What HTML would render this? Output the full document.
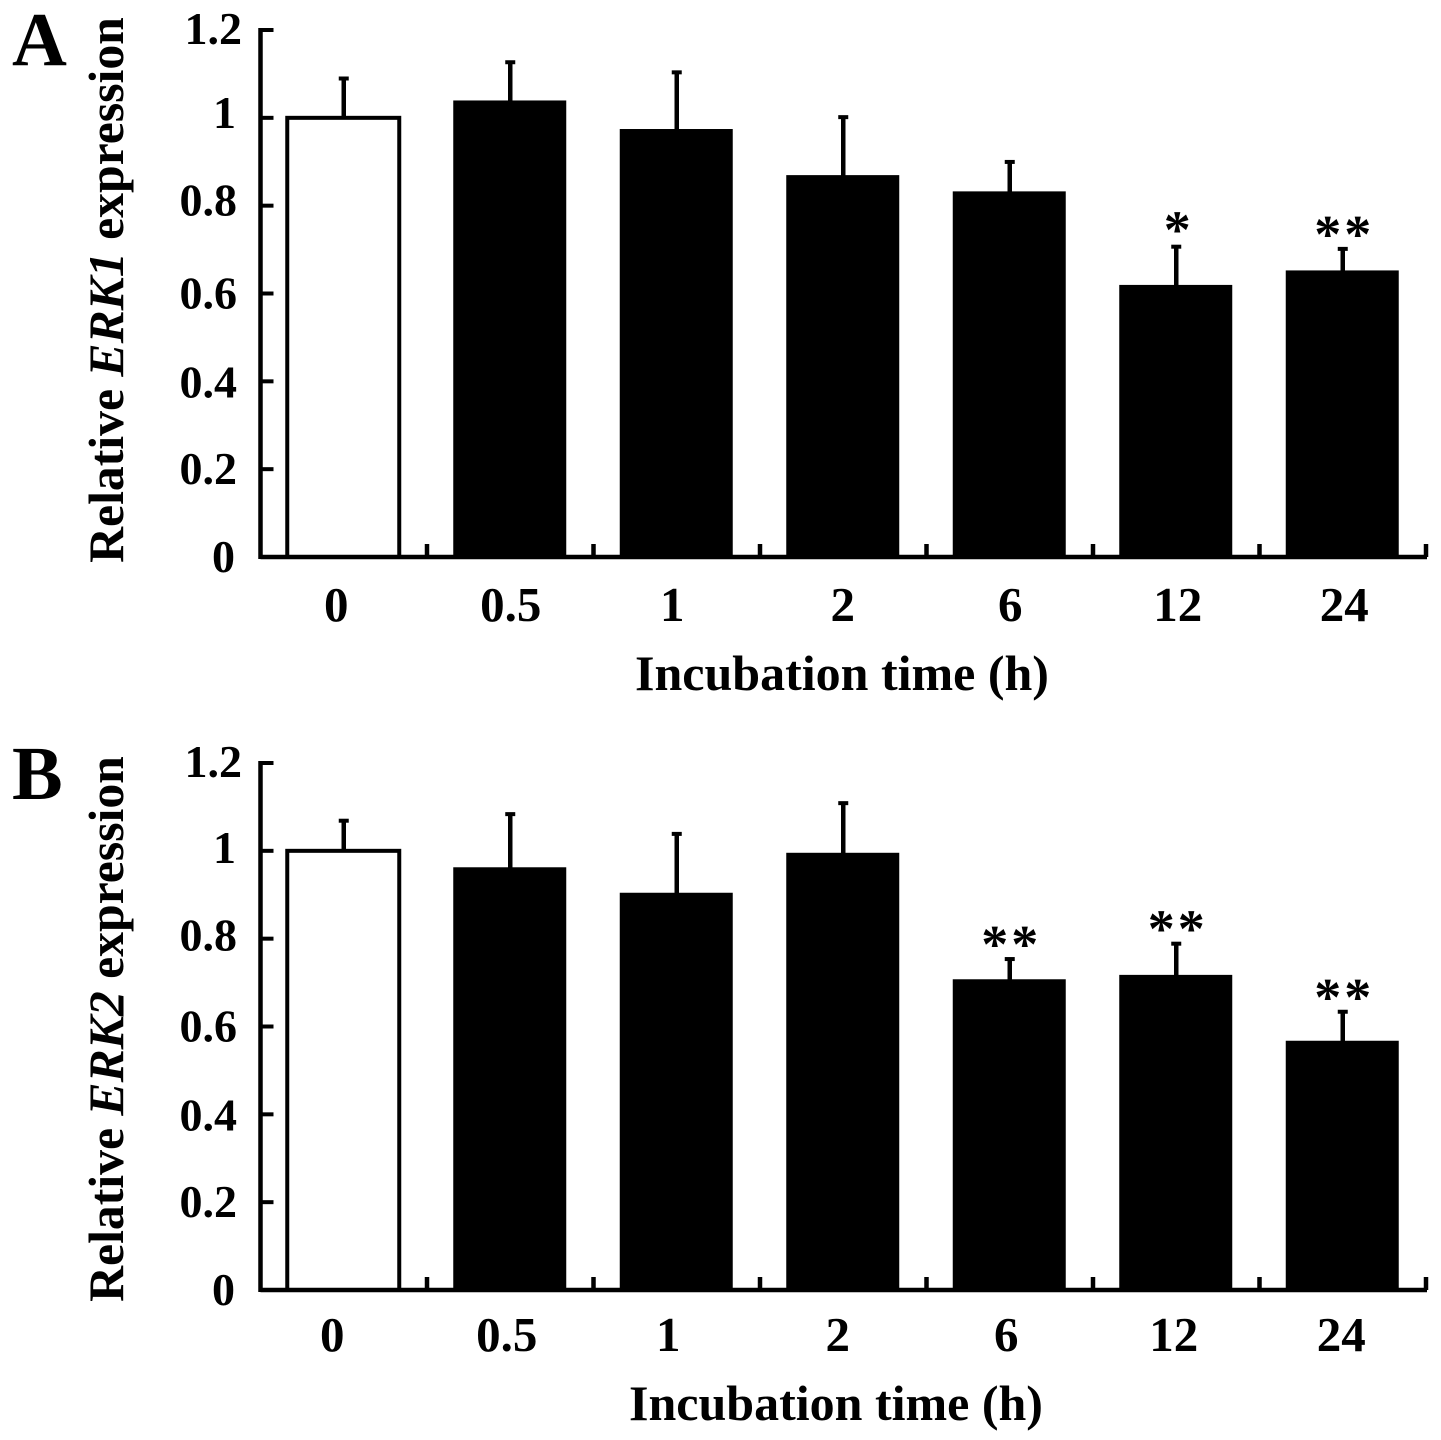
<!DOCTYPE html>
<html>
<head>
<meta charset="utf-8">
<style>
html,body{margin:0;padding:0;background:#fff;}
svg{display:block;}
text{font-family:"Liberation Serif",serif;font-weight:bold;fill:#000;}
</style>
</head>
<body>
<svg id="chart" width="1441" height="1440" viewBox="0 0 1441 1440" xmlns="http://www.w3.org/2000/svg"></svg>
<script>
const categories = ['0', '0.5', '1', '2', '6', '12', '24'];
const yTicks = [0, 0.2, 0.4, 0.6, 0.8, 1, 1.2];
const erk1Values = [1, 1.035, 0.97, 0.865, 0.828, 0.615, 0.648];
const erk1ErrorTops = [1.093, 1.13, 1.107, 1.005, 0.903, 0.71, 0.705];
const erk1Stars = ['', '', '', '', '', '*', '**'];
const erk2Values = [1, 0.958, 0.9, 0.991, 0.703, 0.713, 0.563];
const erk2ErrorTops = [1.072, 1.087, 1.042, 1.112, 0.757, 0.792, 0.637];
const erk2Stars = ['', '', '', '', '**', '**', '**'];

const svg = document.getElementById('chart');
const NS = 'http://www.w3.org/2000/svg';

function make(tag, attrs, parent) {
  const el = document.createElementNS(NS, tag);
  for (const k in attrs) el.setAttribute(k, attrs[k]);
  parent.appendChild(el);
  return el;
}

function drawPanel(cfg) {
  const g = make('g', {}, svg);
  
  

  const xLeft = 260.5, xRight = 1426, yMax = 1.2;
  const step = (xRight - xLeft) / categories.length;
  const yScale = v => cfg.y0 - (v / yMax) * (cfg.y0 - cfg.yTop);
  const xCenter = i => xLeft + step * (i + 0.5) + 0.5;
  const barCenter = i => xCenter(i) - 1;

  // bars
  categories.forEach((c, i) => {
    const v = cfg.values[i];
    const top = yScale(v);
    const errTop = yScale(cfg.errTops[i]);
    const errX = barCenter(i) + 0.5;

    const err = make('line', {x1: errX, x2: errX, y1: top, y2: errTop, stroke: '#000', 'stroke-width': 4.5}, g);
    
    

    const cap = make('line', {x1: errX - 5, x2: errX + 5, y1: errTop + 1.5, y2: errTop + 1.5, stroke: '#000', 'stroke-width': 4}, g);
    
    

    const w = i === 0 ? 112 : 109;
    const bar = make('rect', {
      x: barCenter(i) - w / 2, y: top, width: w, height: cfg.y0 - top,
      fill: i === 0 ? '#fff' : '#000', stroke: '#000', 'stroke-width': 4
    }, g);
    
    

    if (cfg.stars[i]) {
      const double = cfg.stars[i].length > 1;
      const st = make('text', {
        x: errX + (double ? 1.5 : 1), y: errTop + (double ? 5 : 3), 'text-anchor': 'middle', 'font-size': 54,
        'letter-spacing': double ? 3 : 0
      }, g);
      
      
      st.textContent = cfg.stars[i];
    }

    const lbl = make('text', {x: xCenter(i) + cfg.labelDx[i], y: cfg.xLabelY, 'text-anchor': 'middle', 'font-size': 49}, g);
    
    
    lbl.textContent = c;
  });

  // axes
  const yAxis = make('line', {x1: xLeft, x2: xLeft, y1: cfg.yTop - 2, y2: cfg.y0 + 2, stroke: '#000', 'stroke-width': 4.5}, g);
  
  

  const xAxis = make('line', {x1: xLeft, x2: xRight + 1, y1: cfg.y0, y2: cfg.y0, stroke: '#000', 'stroke-width': 4.5}, g);
  
  

  yTicks.forEach((t, i) => {
    const y = yScale(t);
    const tick = make('line', {x1: xLeft, x2: xLeft + 13, y1: y, y2: y, stroke: '#000', 'stroke-width': 4}, g);
    
    

    const lbl = make('text', {x: 237 + cfg.yLabelDx[i], y: y + cfg.yLabelDy[i], 'text-anchor': 'end', 'font-size': 46}, g);
    
    
    lbl.textContent = String(t);
  });

  for (let i = 1; i <= categories.length; i++) {
    const x = xLeft + step * i;
    const tick = make('line', {x1: x, x2: x, y1: cfg.y0, y2: cfg.y0 - 13, stroke: '#000', 'stroke-width': 4.5}, g);
    
    
  }

  // titles
  const xTitle = make('text', {x: cfg.xTitleX, y: cfg.xTitleY, 'text-anchor': 'middle', 'font-size': 50}, g);
  
  
  xTitle.textContent = 'Incubation time (h)';

  const yTitle = make('text', {
    x: 0, y: 0, 'text-anchor': 'middle', 'font-size': 49.7,
    transform: 'translate(123,' + cfg.yTitleY + ') rotate(-90)'
  }, g);
  
  
  yTitle.appendChild(document.createTextNode('Relative '));
  const gene = make('tspan', {'font-style': 'italic'}, yTitle);
  gene.textContent = cfg.gene;
  yTitle.appendChild(document.createTextNode(' expression'));

  const letter = make('text', {x: 12, y: cfg.letterY, 'font-size': 76}, g);
  
  
  letter.textContent = cfg.letter;
}

drawPanel({
  key: 'erk1', gene: 'ERK1', letter: 'A', letterY: 65,
  y0: 557, yTop: 30,
  values: erk1Values, errTops: erk1ErrorTops, stars: erk1Stars,
  labelDx: [-8, 0, -5, -1, 0, 1, 1],
  yLabelDx: [-2, 0, 0, 0, 0, -1, 5],
  yLabelDy: [15, 15, 16, 15, 10, 10, 14],
  xLabelY: 621, xTitleX: 842, xTitleY: 690, yTitleY: 290
});

drawPanel({
  key: 'erk2', gene: 'ERK2', letter: 'B', letterY: 799,
  y0: 1290, yTop: 763,
  values: erk2Values, errTops: erk2ErrorTops, stars: erk2Stars,
  labelDx: [-12, -4, -9, -6, -4, -3, -2],
  yLabelDx: [-2, 0, 0, 0, 0, -1, 5],
  yLabelDy: [15, 15, 16, 15, 12, 12, 14],
  xLabelY: 1351, xTitleX: 836, xTitleY: 1420, yTitleY: 1029
});
</script>
</body>
</html>
